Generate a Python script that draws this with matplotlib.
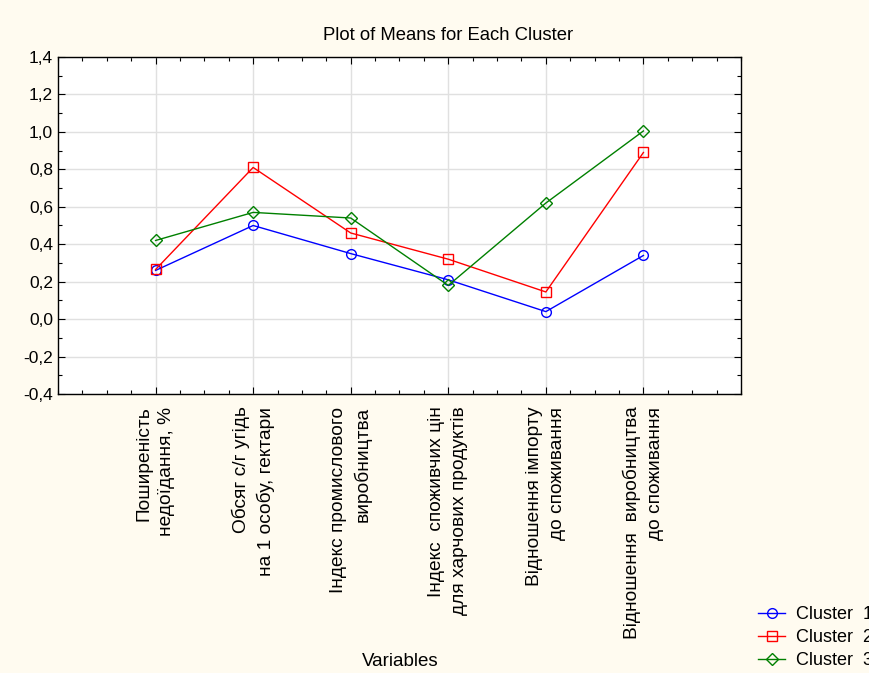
import matplotlib.pyplot as plt
from matplotlib.ticker import MultipleLocator, FuncFormatter

plt.rcParams['font.family'] = ['Liberation Sans', 'DejaVu Sans']

# Змінні (категорії на осі X)
variables = [
    "Поширеність\nнедоїдання, %",
    "Обсяг с/г угідь\nна 1 особу, гектари",
    "Індекс промислового\nвиробництва",
    "Індекс  споживчих цін\nдля харчових продуктів",
    "Відношення імпорту\nдо споживання",
    "Відношення  виробництва\nдо споживання",
]

# Середні значення для кожного кластера
cluster1 = [0.26, 0.50, 0.35, 0.21, 0.04, 0.34]
cluster2 = [0.265, 0.81, 0.46, 0.32, 0.145, 0.89]
cluster3 = [0.42, 0.57, 0.54, 0.18, 0.62, 1.005]

labels = ["Cluster  1", "Cluster  2", "Cluster  3"]
colors = ["#0000ff", "#ff0000", "#008000"]
markers = ["o", "s", "D"]

fig = plt.figure(figsize=(8.7, 6.73), dpi=100, facecolor="#fffbf0")
ax = fig.add_axes([58 / 870, 1 - 394 / 673, (741 - 58) / 870, (394 - 57) / 673])
ax.set_facecolor("white")

x = list(range(1, len(variables) + 1))
for vals, lab, col, mk in zip([cluster1, cluster2, cluster3], labels, colors, markers):
    ax.plot(x, vals, color=col, marker=mk, markersize=7 if mk != "D" else 6,
            markerfacecolor="none", markeredgewidth=1, linewidth=1, label=lab)

ax.set_xlim(0, 7)
ax.set_ylim(-0.4, 1.4)
ax.set_xticks(x)
ax.set_xticklabels(variables, rotation=90, multialignment="right", fontsize=13.8,
                   linespacing=1.45)
ax.xaxis.set_minor_locator(MultipleLocator(0.25))
ax.yaxis.set_major_locator(MultipleLocator(0.2))
ax.yaxis.set_minor_locator(MultipleLocator(0.1))
ax.yaxis.set_major_formatter(FuncFormatter(lambda v, p: f"{v:.1f}".replace(".", ",")))
ax.tick_params(axis="y", labelsize=12.5)
ax.tick_params(axis="x", pad=9)
ax.tick_params(which="both", direction="in", top=True, right=True, width=0.8)
ax.tick_params(which="major", length=5)
ax.tick_params(which="minor", length=3)
ax.grid(True, which="major", color="#e0e0e0", linewidth=1)
ax.set_axisbelow(True)
for s in ax.spines.values():
    s.set_linewidth(1)

fig.text(448 / 870, 1 - 35 / 673, "Plot of Means for Each Cluster", ha="center", va="center", fontsize=13.3)
fig.text(400 / 870, 1 - 661 / 673, "Variables", ha="center", va="center", fontsize=13.5)

fig.legend(loc="upper left", bbox_to_anchor=(758 / 870, 1 - 606 / 673), frameon=False,
           fontsize=13, handlelength=1.5, handletextpad=0.6, labelspacing=0.33,
           borderaxespad=0, borderpad=0)

fig.savefig("out.png", dpi=100, facecolor=fig.get_facecolor())
